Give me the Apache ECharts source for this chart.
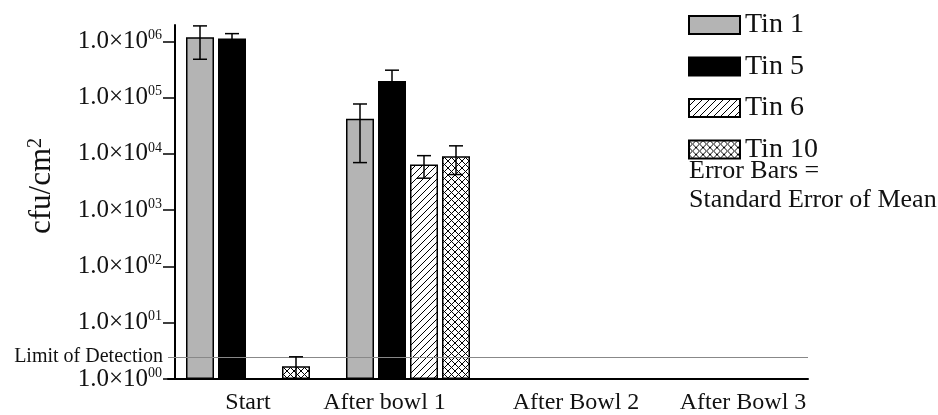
<!DOCTYPE html>
<html>
<head>
<meta charset="utf-8">
<script src="https://cdn.jsdelivr.net/npm/echarts@6/dist/echarts.min.js"></script>
<style>
  html, body { margin: 0; padding: 0; background: #fff; }
  #chart { width: 938px; height: 415px; }
</style>
</head>
<body>
<div id="chart"></div>
<script>
  // data (cfu/cm2, mean and standard error of mean)
  const categories = ['Start', 'After bowl 1', 'After Bowl 2', 'After Bowl 3'];
  const tinNames = ['Tin 1', 'Tin 5', 'Tin 6', 'Tin 10'];
  const tin1 = [1.18e6, 4.2e4, null, null];
  const tin1Err = [7.0e5, 3.5e4, null, null];
  const tin5 = [1.12e6, 1.97e5, null, null];
  const tin5Err = [2.5e5, 1.1e5, null, null];
  const tin6 = [null, 6.5e3, null, null];
  const tin6Err = [null, 2.8e3, null, null];
  const tin10 = [1.68, 9.1e3, null, null];
  const tin10Err = [0.8, 4.8e3, null, null];
  const yTicks = [1, 10, 100, 1000, 10000, 100000, 1000000];
  const limitOfDetection = 2.45;

  const serif = 'Liberation Serif';
  const barWidth = 28;
  const barSpace = 4;
  const capWidth = 14;

  function makePattern(cross) {
    const s = 7;
    const c = document.createElement('canvas');
    c.width = s; c.height = s;
    const ctx = c.getContext('2d');
    ctx.fillStyle = '#fff';
    ctx.fillRect(0, 0, s, s);
    ctx.strokeStyle = '#000';
    ctx.lineWidth = 1;
    ctx.beginPath();
    ctx.moveTo(0, s); ctx.lineTo(s, 0);
    ctx.moveTo(-1, 1); ctx.lineTo(1, -1);
    ctx.moveTo(s - 1, s + 1); ctx.lineTo(s + 1, s - 1);
    if (cross) {
      ctx.moveTo(0, 0); ctx.lineTo(s, s);
      ctx.moveTo(-1, s - 1); ctx.lineTo(1, s + 1);
      ctx.moveTo(s - 1, -1); ctx.lineTo(s + 1, 1);
    }
    ctx.stroke();
    return { image: c, repeat: 'repeat' };
  }

  const fills = ['#b4b4b4', '#000000', makePattern(false), makePattern(true)];
  const values = [tin1, tin5, tin6, tin10];
  const errors = [tin1Err, tin5Err, tin6Err, tin10Err];

  const series = [];
  values.forEach((vals, k) => {
    const bar = {
      name: tinNames[k],
      type: 'bar',
      barWidth: barWidth,
      barGap: (barSpace / barWidth * 100) + '%',
      data: vals.map(v => v == null ? '-' : v),
      itemStyle: { color: fills[k], borderColor: '#000', borderWidth: 1.5 },
      emphasis: { disabled: true },
      z: 2
    };
    if (k === 0) {
      bar.markLine = {
        silent: true,
        symbol: 'none',
        data: [{ yAxis: limitOfDetection }],
        lineStyle: { color: '#888', width: 1, type: 'solid' },
        label: {
          position: 'start',
          formatter: 'Limit of Detection',
          fontFamily: serif,
          fontSize: 20,
          color: '#111',
          distance: 5
        }
      };
    }
    series.push(bar);
  });

  errors.forEach((errs, k) => {
    const data = [];
    values[k].forEach((v, i) => {
      if (v != null) data.push([i, v - errs[i], v + errs[i]]);
    });
    series.push({
      type: 'custom',
      name: tinNames[k] + ' error',
      clip: true,
      z: 5,
      silent: true,
      encode: { x: 0, y: [1, 2] },
      data: data,
      renderItem: function (params, api) {
        const hi = api.coord([api.value(0), api.value(2)]);
        const lo = api.coord([api.value(0), api.value(1)]);
        const cx = hi[0] + (k - 1.5) * (barWidth + barSpace);
        const h = capWidth / 2;
        const st = { stroke: '#000', lineWidth: 1.5 };
        return {
          type: 'group',
          children: [
            { type: 'line', shape: { x1: cx, y1: hi[1], x2: cx, y2: lo[1] }, style: st },
            { type: 'line', shape: { x1: cx - h, y1: hi[1], x2: cx + h, y2: hi[1] }, style: st },
            { type: 'line', shape: { x1: cx - h, y1: lo[1], x2: cx + h, y2: lo[1] }, style: st }
          ]
        };
      }
    });
  });

  const xLabelStyle = { fontFamily: serif, fontSize: 24, color: '#111' };

  const chart = echarts.init(document.getElementById('chart'));
  chart.setOption({
    animation: false,
    backgroundColor: '#fff',
    title: {
      text: 'Error Bars =\nStandard Error of Mean',
      left: 689,
      top: 157,
      padding: 0,
      textStyle: { fontFamily: serif, fontSize: 26, fontWeight: 'normal', color: '#111', lineHeight: 29 }
    },
    legend: {
      orient: 'vertical',
      left: 688,
      top: 11,
      padding: 0,
      itemWidth: 51,
      itemHeight: 18,
      itemGap: 13.5,
      icon: 'rect',
      selectedMode: false,
      data: tinNames,
      textStyle: { fontFamily: serif, fontSize: 28, color: '#111' }
    },
    grid: { left: 168, right: 130, top: 25, bottom: 34 },
    xAxis: {
      type: 'category',
      data: categories,
      axisTick: { show: false },
      axisLine: { lineStyle: { color: '#000', width: 2 } },
      axisLabel: {
        margin: 12,
        formatter: function (v, i) { return '{c' + i + '|' + v + '}'; },
        rich: {
          c0: Object.assign({}, xLabelStyle),
          c1: Object.assign({ padding: [0, 47, 0, 0] }, xLabelStyle),
          c2: Object.assign({ padding: [0, 0, 0, 16] }, xLabelStyle),
          c3: Object.assign({ padding: [0, 0, 0, 30] }, xLabelStyle)
        }
      }
    },
    yAxis: {
      type: 'log',
      logBase: 10,
      min: 1,
      max: 1.95e6,
      offset: -7,
      name: 'cfu/cm{s|2}',
      nameLocation: 'middle',
      nameRotate: 90,
      nameGap: 118,
      nameTextStyle: {
        fontFamily: serif, fontSize: 31, color: '#111',
        padding: [0, 0, 0, 32],
        rich: { s: { fontFamily: serif, fontSize: 20, color: '#111', verticalAlign: 'top', lineHeight: 14 } }
      },
      splitLine: { show: false },
      axisLine: { show: true, lineStyle: { color: '#000', width: 2 } },
      axisTick: { show: true, length: 12, customValues: yTicks, lineStyle: { color: '#000', width: 1.5 } },
      axisLabel: {
        customValues: yTicks,
        margin: 13,
        formatter: function (v) {
          const e = Math.log10(v);
          if (Math.abs(e - Math.round(e)) > 1e-6) return '';
          return '{m|1.0×10}{e|' + String(Math.round(e)).padStart(2, '0') + '}';
        },
        rich: {
          m: { fontFamily: serif, fontSize: 25, color: '#111', lineHeight: 26 },
          e: { fontFamily: serif, fontSize: 14, color: '#111', verticalAlign: 'top', lineHeight: 14 }
        }
      }
    },
    series: series
  });
</script>
</body>
</html>
